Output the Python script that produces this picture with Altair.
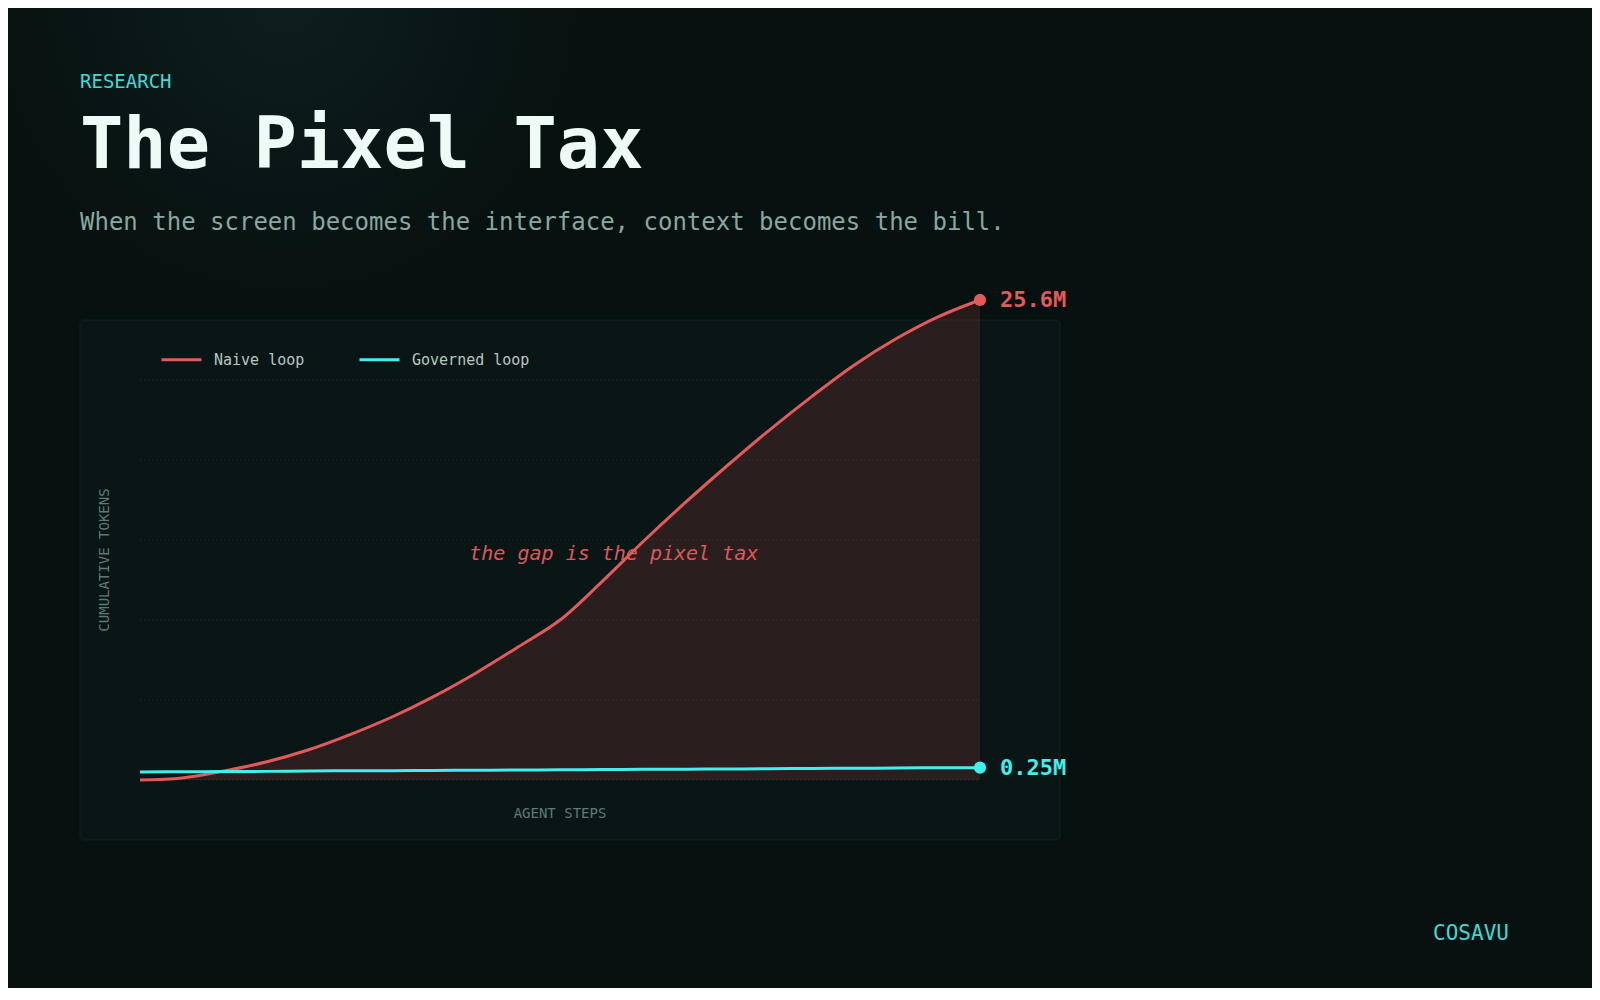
import altair as alt
import pandas as pd

# ---------------- data ----------------
SERIES = ["Naive loop", "Governed loop"]
COLORS = ["#e35a5a", "#40f0ee"]
STEPS = [0, 5, 10, 15, 20, 25, 30, 35, 40, 45, 50, 55, 60, 65, 70, 75, 80, 85, 90, 95, 100]
NAIVE = [0.0, 0.11, 0.48, 0.96, 1.6, 2.42, 3.36, 4.46, 5.71, 7.09, 8.53,
         10.58, 12.76, 14.83, 16.8, 18.69, 20.46, 22.12, 23.53, 24.7, 25.6]
GOVERNED = [0.43, 0.44, 0.45, 0.46, 0.48, 0.49, 0.50, 0.51, 0.52, 0.53, 0.545,
            0.555, 0.57, 0.58, 0.59, 0.60, 0.615, 0.625, 0.64, 0.65, 0.66]
END_LABELS = ["25.6M", "0.25M"]
GRID_VALUES = [0, 4.267, 8.533, 12.8, 17.067, 21.333]
Y_TOP = 21.333
ANNOT_TEXT = "the gap is the pixel tax"
ANNOT_STEP = 56.4
ANNOT_VALUE = 11.73
KICKER = "RESEARCH"
TITLE = "The Pixel Tax"
SUBTITLE = "When the screen becomes the interface, context becomes the bill."
Y_TITLE = "CUMULATIVE TOKENS"
X_TITLE = "AGENT STEPS"
BRAND = "COSAVU"

FONT = "DejaVu Sans Mono"
BG = "#071110"

rows = []
for s, n, g in zip(STEPS, NAIVE, GOVERNED):
    rows.append({"step": s, "tokens": n, "series": SERIES[0]})
    rows.append({"step": s, "tokens": g, "series": SERIES[1]})
df = pd.DataFrame(rows)
df_naive = df[df.series == SERIES[0]]
df_end = pd.DataFrame({
    "step": [STEPS[-1], STEPS[-1]],
    "tokens": [NAIVE[-1], GOVERNED[-1]],
    "series": SERIES,
    "label": END_LABELS,
})
df_grid = pd.DataFrame({"v": GRID_VALUES})
df_annot = pd.DataFrame({"step": [ANNOT_STEP], "tokens": [ANNOT_VALUE], "t": [ANNOT_TEXT]})

xs = alt.Scale(domain=[0, 100], nice=False, zero=False)
ys = alt.Scale(domain=[0, Y_TOP], nice=False, zero=False)
cs = alt.Scale(domain=SERIES, range=COLORS)

one = alt.Data(values=[{"a": 1}])

glow = alt.Chart(one).mark_rect(
    fill=alt.RadialGradient(
        gradient="radial",
        stops=[alt.GradientStop(offset=0, color="#0e1e1d"),
               alt.GradientStop(offset=1, color=BG)],
    )
).encode(x=alt.value(-155), x2=alt.value(445), y=alt.value(-680), y2=alt.value(-80))

panel = alt.Chart(one).mark_rect(
    fill="#0a1615", stroke="#12211f", strokeWidth=1, cornerRadius=4
).encode(x=alt.value(-60), x2=alt.value(920), y=alt.value(-60), y2=alt.value(460))

grid = alt.Chart(df_grid).mark_rule(
    color="#172826", strokeWidth=1, strokeDash=[2, 2]
).encode(y=alt.Y("v:Q", scale=ys, axis=None), x=alt.value(0), x2=alt.value(840))

area = alt.Chart(df_naive).mark_area(
    color=COLORS[0], opacity=0.15, interpolate="catmull-rom"
).encode(
    x=alt.X("step:Q", scale=xs, axis=None),
    y=alt.Y("tokens:Q", scale=ys, axis=None),
)

annot = alt.Chart(df_annot).mark_text(
    font=FONT, fontSize=20, fontStyle="italic", color="#dd5858",
    align="center", baseline="alphabetic"
).encode(x=alt.X("step:Q", scale=xs, axis=None), y=alt.Y("tokens:Q", scale=ys, axis=None), text="t:N")

lines = alt.Chart(df).mark_line(strokeWidth=3, interpolate="catmull-rom").encode(
    x=alt.X("step:Q", scale=xs, axis=None),
    y=alt.Y("tokens:Q", scale=ys, axis=None),
    color=alt.Color(
        "series:N", scale=cs,
        legend=alt.Legend(
            title=None, orient="none", legendX=20, legendY=-42, direction="horizontal",
            symbolType="stroke", symbolSize=1600, symbolStrokeWidth=3,
            labelFont=FONT, labelFontSize=15, labelColor="#b5c8c3", labelOffset=11,
            columnPadding=48, padding=0,
        ),
    ),
    detail="series:N",
)

dots = alt.Chart(df_end).mark_point(filled=True, size=150, opacity=1).encode(
    x=alt.X("step:Q", scale=xs, axis=None),
    y=alt.Y("tokens:Q", scale=ys, axis=None),
    color=alt.Color("series:N", scale=cs),
)

end_labels = alt.Chart(df_end).mark_text(
    font=FONT, fontSize=22, fontWeight="bold", align="left", baseline="middle", dx=20
).encode(
    x=alt.X("step:Q", scale=xs, axis=None),
    y=alt.Y("tokens:Q", scale=ys, axis=None),
    text="label:N",
    color=alt.Color("series:N", scale=cs),
)


def label(text, x, y, **kw):
    return alt.Chart(alt.Data(values=[{"t": text}])).mark_text(font=FONT, **kw).encode(
        x=alt.value(x), y=alt.value(y), text="t:N"
    )


kicker = label(KICKER, -60, -292, fontSize=19, color="#3ddcd8",
               align="left", baseline="alphabetic")
title = label(TITLE, -60, -212, fontSize=72, fontWeight="bold",
              color="#eefaf6", align="left", baseline="alphabetic")
subtitle = label(SUBTITLE, -60, -150, fontSize=24, color="#88a8a0",
                 align="left", baseline="alphabetic")
brand = label(BRAND, 1331, 560, fontSize=21, color="#3ed8d6",
              align="center", baseline="alphabetic")
ytitle = label(Y_TITLE, -35, 180, fontSize=14, color="#5d7b75",
               align="center", baseline="middle", angle=270)
xtitle = label(X_TITLE, 420, 434, fontSize=14, color="#5d7b75",
               align="center", baseline="middle")

chart = alt.layer(
    glow, panel, grid, area, annot, lines, dots, end_labels,
    kicker, title, subtitle, brand, ytitle, xtitle,
).properties(
    width=840, height=400,
    padding={"left": 132, "top": 372, "right": 612, "bottom": 208},
    autosize=alt.AutoSizeParams(type="none"),
    background=BG,
).configure_view(stroke=None)

chart.save("out.html", embed_options={"renderer": "svg", "actions": False})
